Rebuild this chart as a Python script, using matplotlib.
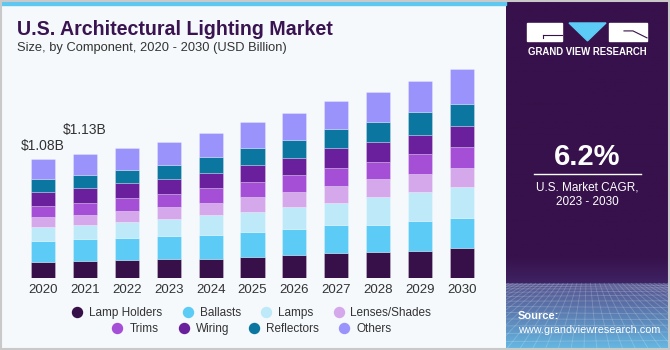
import matplotlib.pyplot as plt
import numpy as np
from matplotlib.lines import Line2D
from matplotlib.patches import Rectangle, Polygon
from matplotlib.colors import to_rgb

plt.rcParams["font.family"] = ["Liberation Sans", "DejaVu Sans"]

# Daten (USD Billion)
years = ["2020", "2021", "2022", "2023", "2024", "2025", "2026", "2027", "2028", "2029", "2030"]
components = ["Lamp Holders", "Ballasts", "Lamps", "Lenses/Shades", "Trims", "Wiring", "Reflectors", "Others"]
lamp_holders = [0.148, 0.154, 0.163, 0.178, 0.178, 0.196, 0.211, 0.227, 0.239, 0.250, 0.278]
ballasts = [0.193, 0.200, 0.200, 0.206, 0.218, 0.227, 0.236, 0.260, 0.249, 0.272, 0.270]
lamps = [0.124, 0.127, 0.151, 0.154, 0.179, 0.181, 0.202, 0.200, 0.249, 0.260, 0.279]
lenses = [0.088, 0.091, 0.100, 0.106, 0.109, 0.131, 0.133, 0.154, 0.160, 0.163, 0.178]
trims = [0.103, 0.115, 0.113, 0.118, 0.133, 0.139, 0.154, 0.163, 0.160, 0.179, 0.185]
wiring = [0.127, 0.130, 0.136, 0.139, 0.139, 0.152, 0.152, 0.175, 0.181, 0.178, 0.193]
reflectors = [0.118, 0.118, 0.121, 0.130, 0.145, 0.152, 0.166, 0.175, 0.181, 0.206, 0.202]
others = [0.179, 0.191, 0.197, 0.209, 0.218, 0.236, 0.242, 0.257, 0.272, 0.284, 0.312]
value_labels = {0: "\\$1.08B", 1: "\\$1.13B"}
cagr = "6.2%"

series = [lamp_holders, ballasts, lamps, lenses, trims, wiring, reflectors, others]
colors = ["#37104a", "#5ccbf5", "#bde9f9", "#d5a8ec", "#a54fd6", "#6a1f9c", "#0b769f", "#9b93fc"]

W, H = 670, 350
def fx(px):
    return px / W
def fy(py):
    return 1 - py / H

fig = plt.figure(figsize=(6.7, 3.5), dpi=100, facecolor="#f5f9fc")

# Balken
ax = fig.add_axes([fx(22.05), fy(278.3), 460.9 / W, 220.4 / H])
ax.set_facecolor("none")
x = np.arange(len(years))
bottom = np.zeros(len(years))
for vals, col in zip(series, colors):
    ax.bar(x, vals, 0.575, bottom=bottom, color=col, edgecolor=(1, 1, 1, 0.35), linewidth=0.5)
    bottom += np.array(vals)
for i, txt in value_labels.items():
    off = 6.5 if i == 0 else 14.5
    ax.annotate(txt, (x[i], bottom[i]), xytext=(0, off), textcoords="offset points",
                ha="center", va="baseline", fontsize=10, color="#333333")
ax.set_xlim(-0.5, len(years) - 0.5)
ax.set_ylim(0, 2.0)
ax.set_xticks(x)
ax.set_xticklabels(years, fontsize=9.5, color="#333333")
ax.tick_params(axis="x", length=0, pad=4)
ax.set_yticks([])
for s in ax.spines.values():
    s.set_visible(False)

# Titel
fig.text(fx(17), fy(35), "U.S. Architectural Lighting Market", fontsize=14.1, fontweight="bold",
         color="#3a1450", va="baseline")
fig.text(fx(17), fy(51), "Size, by Component, 2020 - 2030 (USD Billion)", fontsize=9.3,
         color="#333333", va="baseline")

# Legende in zwei Zeilen
handles = [Line2D([], [], marker="o", linestyle="none", markersize=7.2, color=c) for c in colors]
for row, yy in ((0, 312.7), (1, 328.7)):
    leg = fig.legend(handles[row * 4:row * 4 + 4], components[row * 4:row * 4 + 4], loc="center",
                     bbox_to_anchor=(fx(252), fy(yy)), ncol=4, frameon=False, fontsize=8.5,
                     handlelength=0.8, handletextpad=0.6, columnspacing=1.75, borderpad=0)
    for t in leg.get_texts():
        t.set_color("#333333")

# Streifen oben + Rahmen
fig.patches.append(Rectangle((0, fy(4.5)), fx(506), 4.5 / H, transform=fig.transFigure,
                             color="#5ec8f0", zorder=0))
fig.patches.append(Rectangle((0.001, 0.003), 0.997, 0.994, transform=fig.transFigure, fill=False,
                             edgecolor="#c9c9c9", linewidth=1.5, zorder=10))

# rechte Tafel
rp = fig.add_axes([fx(506), 0.006, fx(162), 0.994 - 0.006])
rp.set_xlim(0, 162)
rp.set_ylim(348, 0)
rp.axis("off")
yy = np.arange(350)
grad = np.zeros((350, 1, 3))
top = np.array(to_rgb("#37114b"))
mid = np.array(to_rgb("#3e2363"))
band = np.array(to_rgb("#565892"))
low = np.array(to_rgb("#66bce6"))
for i in yy:
    if i < 255:
        grad[i, 0] = top
    elif i < 283:
        grad[i, 0] = top + (mid - top) * (i - 255) / 28
    else:
        grad[i, 0] = band + (low - band) * ((i - 283) / 67) ** 1.2
rp.imshow(grad, extent=(0, 162, 350, 0), aspect="auto", zorder=0)
# Gitter-Textur
for k in range(1, 14):
    gy = 283 + 67 * (k / 13) ** 1.7
    rp.plot([0, 162], [gy, gy + 1.5 * np.sin(k)], color="white", alpha=0.2, lw=0.6, zorder=1)
for gx in np.arange(-260, 430, 13):
    rp.plot([81 + (gx - 81) * 0.35, gx], [283, 350], color="white", alpha=0.2, lw=0.6, zorder=1)

# Logo
rp.add_patch(Rectangle((21, 21), 35, 18, color="white", zorder=2))
rp.plot([37, 56], [32.7, 32.7], color="#37114b", lw=0.8, zorder=3)
rp.plot([37, 37], [32.7, 36], color="#37114b", lw=0.8, zorder=3)
rp.add_patch(Polygon([[63, 21], [100, 21], [81.5, 39]], closed=True, color="#5ccbf5", zorder=2))
rp.add_patch(Rectangle((103, 21), 38, 18, color="white", zorder=2))
rp.plot([118, 127, 141], [29, 29, 36], color="#37114b", lw=0.8, zorder=3)
rp.text(81, 50.7, "GRAND VIEW RESEARCH", ha="center", va="center", fontsize=6.9,
        fontweight="bold", color="white")

rp.text(81, 156, cagr, ha="center", va="center", fontsize=21, fontweight="bold", color="white")
rp.plot([28, 134.7], [173.3, 173.3], color="white", lw=1)
rp.text(81, 186.7, "U.S. Market CAGR,", ha="center", va="center", fontsize=8.5, color="white")
rp.text(81, 201, "2023 - 2030", ha="center", va="center", fontsize=8.5, color="white")
rp.text(12, 316, "Source:", ha="left", va="center", fontsize=8, fontweight="bold", color="white")
rp.text(12, 330, "www.grandviewresearch.com", ha="left", va="center", fontsize=7.8, color="white")

fig.savefig("out.png", dpi=100, facecolor=fig.get_facecolor())
